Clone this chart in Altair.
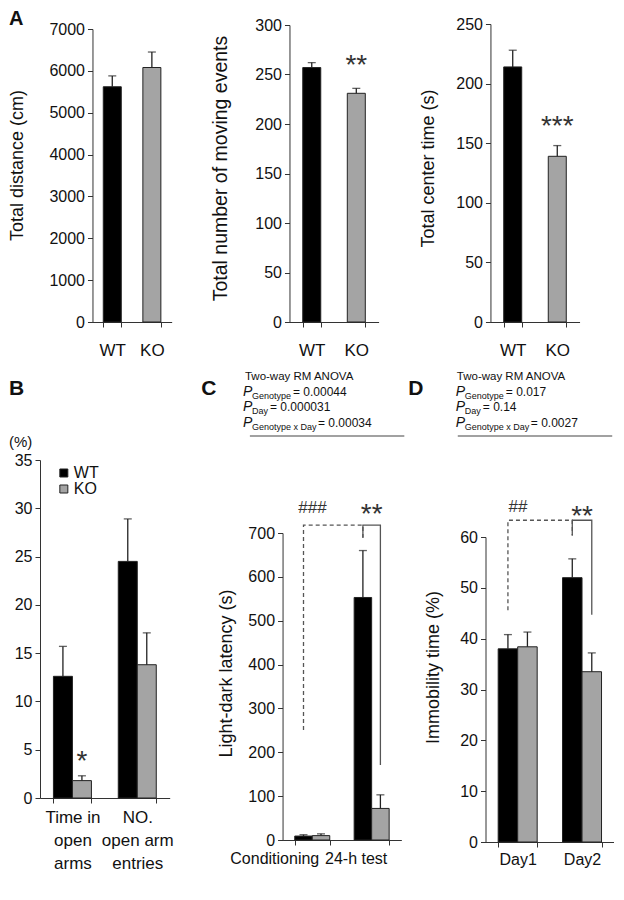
import altair as alt
import pandas as pd

FONT = "Liberation Sans"
EDGE = "#222222"
AXIS = "#333333"
TXT = "#111111"

genotypes = ["WT", "KO"]
bar_colors = ["#000000", "#a4a4a4"]

# ---------------- Panel A (open field) ----------------
a_distance = [5620, 6080]
a_distance_err = [260, 370]
a_moving = [257, 231]
a_moving_err = [5, 5]
a_center = [214, 139]
a_center_err = [14, 9]
a_distance_sig = ["", ""]
a_moving_sig = ["", "**"]
a_center_sig = ["", "***"]

# ---------------- Panel B (elevated plus maze) ----------------
b_groups = ["Time in|open|arms", "NO.|open arm|entries"]
b_wt = [12.6, 24.5]
b_wt_err = [3.1, 4.4]
b_ko = [1.8, 13.8]
b_ko_err = [0.5, 3.3]
b_sig_ko = ["*", ""]

# ---------------- Panel C (passive avoidance) ----------------
c_groups = ["Conditioning", "24-h test"]
c_wt = [9, 553]
c_wt_err = [3, 107]
c_ko = [10, 72]
c_ko_err = [4, 31]
c_stats = ["= 0.00044", "= 0.000031", "= 0.00034"]
c_hash = ["###", ""]
c_star = ["", "**"]
c_dashed = [("Conditioning", "WT", 251), ("Conditioning", "WT", 718),
            ("24-h test", "WT", 718), ("24-h test", "WT", 689)]
c_solid = [("24-h test", "WT", 689), ("24-h test", "WT", 718),
           ("24-h test", "KO", 718), ("24-h test", "KO", 171)]

# ---------------- Panel D (forced swim) ----------------
d_groups = ["Day1", "Day2"]
d_wt = [38.0, 52.0]
d_wt_err = [2.8, 3.7]
d_ko = [38.4, 33.5]
d_ko_err = [2.9, 3.7]
d_stats = ["= 0.017", "= 0.14", "= 0.0027"]
d_hash = ["##", ""]
d_star = ["", "**"]
d_dashed = [("Day1", "WT", 45.6), ("Day1", "WT", 63.3),
            ("Day2", "WT", 63.3), ("Day2", "WT", 60.3)]
d_solid = [("Day2", "WT", 60.3), ("Day2", "WT", 63.3),
           ("Day2", "KO", 63.3), ("Day2", "KO", 44.7)]

p_subscripts = ["Genotype", "Day", "Genotype x Day"]

# heights (data units) of the significance marks' baselines
A_MOVE_SIG_Y = 251
A_CENTER_SIG_Y = 157
A_DIST_SIG_Y = 0
B_SIG_Y = 2.9
C_STAR_Y = 723
C_HASH_Y = 745
D_STAR_Y = 62.4
D_HASH_Y = 65.0

# ---------------- layout (one view, page pixels) ----------------
KX = 0.99
VIEW_W, VIEW_H = 574, 818
PAD = {"left": 32, "top": 16, "right": 0, "bottom": 40}


def vx(px):
    return (px - 40) * KX


def vy(py):
    return py - 24


DUMMY = pd.DataFrame({"k": [0]})


def txt(s, x, y, size, **kw):
    props = dict(text=s, fontSize=size, font=FONT, align="left",
                 baseline="alphabetic", color=TXT)
    props.update(kw)
    return alt.Chart(DUMMY).mark_text(**props).encode(
        x=alt.value(x), y=alt.value(y))


def y_axis(ymax, ystep, axis_x, title=None, title_x=0, title_y=0, tsize=18):
    kw = dict(values=list(range(0, ymax + 1, ystep)), orient="left",
              offset=-axis_x, format="d")
    if title:
        kw.update(title=title, titleX=title_x - axis_x, titleY=title_y,
                  titleBaseline="middle", titleFontSize=tsize)
    else:
        kw.update(title=None)
    return alt.Axis(**kw)


def single_panel(means, errs, sig, sig_y, ymax, ystep, ytitle, xrange,
                 yrange, title_x, title_y, tsize=18):
    df = pd.DataFrame({"geno": genotypes, "mean": means,
                       "hi": [m + e for m, e in zip(means, errs)], "sig": sig})
    step = (xrange[1] - xrange[0]) / 2
    p_in = 1 - 18 / step
    xsc = alt.Scale(domain=genotypes, range=xrange, paddingInner=p_in,
                    paddingOuter=p_in / 2)
    xax = alt.Axis(title=None, labelAngle=0, tickBand="extent", orient="bottom",
                   offset=-(VIEW_H - yrange[0]), labelFontSize=17,
                   labelPadding=15)
    ysc = alt.Scale(domain=[0, ymax], range=yrange, nice=False)
    yax = y_axis(ymax, ystep, xrange[0], ytitle, title_x, title_y, tsize)

    def X():
        return alt.X("geno:N", sort=genotypes, scale=xsc, axis=xax)

    base = alt.Chart(df)
    bars = base.mark_bar(stroke=EDGE, strokeWidth=1).encode(
        x=X(), y=alt.Y("mean:Q", scale=ysc, axis=yax),
        color=alt.Color("geno:N", scale=alt.Scale(domain=genotypes,
                                                  range=bar_colors), legend=None))
    whisk = base.mark_rule(color=EDGE, strokeWidth=1.3).encode(
        x=X(), y=alt.Y("mean:Q", scale=ysc, axis=yax), y2="hi:Q")
    cap = base.mark_tick(color=EDGE, size=8, thickness=1.3).encode(
        x=X(), y=alt.Y("hi:Q", scale=ysc, axis=yax))
    stars = base.mark_text(fontSize=28, font=FONT, color="#333",
                           baseline="alphabetic").encode(
        x=X(), y=alt.datum(sig_y), text="sig:N")
    return alt.layer(bars, whisk, cap, stars)


def grouped_df(groups, wt, wt_err, ko, ko_err):
    rows = []
    for g, m, e in zip(groups, wt, wt_err):
        rows.append({"group": g, "geno": "WT", "mean": m, "hi": m + e})
    for g, m, e in zip(groups, ko, ko_err):
        rows.append({"group": g, "geno": "KO", "mean": m, "hi": m + e})
    return pd.DataFrame(rows)


def grouped_panel(df, groups, xrange, pair_w, yrange, ymax, ystep, yax,
                  xaxis_kw, legend=None, extra=()):
    step = (xrange[1] - xrange[0]) / 2
    p_in = 1 - pair_w / step
    xsc = alt.Scale(domain=groups, range=xrange, paddingInner=p_in,
                    paddingOuter=p_in / 2)
    xax = alt.Axis(title=None, labelAngle=0, tickBand="extent", orient="bottom",
                   offset=-(VIEW_H - yrange[0]), **xaxis_kw)
    ysc = alt.Scale(domain=[0, ymax], range=yrange, nice=False)

    def X():
        return alt.X("group:N", sort=groups, scale=xsc, axis=xax)

    def XO():
        return alt.XOffset("geno:N", sort=genotypes,
                           scale=alt.Scale(domain=genotypes))

    base = alt.Chart(df)
    bars = base.mark_bar(stroke=EDGE, strokeWidth=1).encode(
        x=X(), xOffset=XO(), y=alt.Y("mean:Q", scale=ysc, axis=yax),
        color=alt.Color("geno:N", scale=alt.Scale(domain=genotypes,
                                                  range=bar_colors),
                        legend=legend))
    whisk = base.mark_rule(color=EDGE, strokeWidth=1.3).encode(
        x=X(), xOffset=XO(), y=alt.Y("mean:Q", scale=ysc, axis=yax), y2="hi:Q")
    cap = base.mark_tick(color=EDGE, size=8, thickness=1.3).encode(
        x=X(), xOffset=XO(), y=alt.Y("hi:Q", scale=ysc, axis=yax))
    layers = [bars, whisk, cap]
    for e in extra:
        layers.append(e(X, XO, yax, ysc))
    return alt.layer(*layers)


def bracket(points, dashed):
    df = pd.DataFrame([{"group": g, "geno": k, "v": v, "step": i}
                       for i, (g, k, v) in enumerate(points)])

    def make(X, XO, yax, ysc):
        props = dict(color="#555555", strokeWidth=1.3)
        if dashed:
            props["strokeDash"] = [4, 3]
        return alt.Chart(df).mark_line(**props).encode(
            x=X(), xOffset=XO(), y=alt.Y("v:Q", scale=ysc, axis=yax),
            order="step:Q")
    return make


def group_text(groups, labels, yval, size, **kw):
    df = pd.DataFrame({"group": groups, "t": labels})

    def make(X, XO, yax, ysc):
        props = dict(fontSize=size, font=FONT, color="#333",
                     baseline="alphabetic")
        props.update(kw)
        return alt.Chart(df).mark_text(**props).encode(
            x=X(), y=alt.datum(yval), text="t:N")
    return make


def ko_text(groups, labels, yval, size):
    df = pd.DataFrame({"group": groups, "geno": ["KO"] * len(groups),
                       "t": labels})

    def make(X, XO, yax, ysc):
        return alt.Chart(df).mark_text(fontSize=size, font=FONT, color="#333",
                                       baseline="alphabetic").encode(
            x=X(), xOffset=XO(), y=alt.datum(yval), text="t:N")
    return make


def anova_block(px, tx, stats, line_x):
    layers = [txt("Two-way RM ANOVA", tx, vy(380), 11.5)]
    rows_y = [vy(396), vy(411), vy(427)]
    eq_dx = [50, 27, 75]
    for sub, val, ry, dx in zip(p_subscripts, stats, rows_y, eq_dx):
        layers.append(txt("P", px, ry, 14, fontStyle="italic"))
        layers.append(txt(sub, px + 9, ry + 3, 9))
        layers.append(txt(val, px + dx, ry, 12))
    layers.append(alt.Chart(DUMMY).mark_rule(color="#444", strokeWidth=1.2)
                  .encode(x=alt.value(line_x[0]), x2=alt.value(line_x[1]),
                          y=alt.value(vy(436))))
    return layers


# ---------------- build panels ----------------
A1 = single_panel(a_distance, a_distance_err, a_distance_sig, A_DIST_SIG_Y,
                  7000, 1000, "Total distance (cm)", [vx(93), vx(173)],
                  [vy(322), vy(29)], -23, 141)
A2 = single_panel(a_moving, a_moving_err, a_moving_sig, A_MOVE_SIG_Y,
                  300, 50, "Total number of moving events",
                  [vx(292), vx(382)], [vy(322), vy(25)], vx(222), 144, 19.5)
A3 = single_panel(a_center, a_center_err, a_center_sig, A_CENTER_SIG_Y,
                  250, 50, "Total center time (s)", [vx(495), vx(585)],
                  [vy(322), vy(24)], vx(432), 144)

b_df = grouped_df(b_groups, b_wt, b_wt_err, b_ko, b_ko_err)
b_legend = alt.Legend(orient="none", legendX=vx(56), legendY=vy(465),
                      title=None, symbolType="square", symbolSize=64,
                      symbolStrokeColor=EDGE, symbolStrokeWidth=1,
                      labelFontSize=16, labelFont=FONT, labelColor=TXT,
                      rowPadding=0, padding=0, labelOffset=2)
B = grouped_panel(
    b_df, b_groups, [vx(40), vx(171)], 38, [vy(798), vy(460)], 35, 5,
    y_axis(35, 5, vx(40)),
    dict(labelFontSize=17, labelPadding=6, labelLineHeight=23,
         labelExpr="split(datum.label, '|')"),
    legend=b_legend,
    extra=[ko_text(b_groups, b_sig_ko, B_SIG_Y, 28)])

c_df = grouped_df(c_groups, c_wt, c_wt_err, c_ko, c_ko_err)
C = grouped_panel(
    c_df, c_groups, [vx(285), vx(405)], 35, [vy(840), vy(533)], 700, 100,
    y_axis(700, 100, vx(285), "Light-dark latency (s)", vx(228), 649),
    dict(labelFontSize=16, labelPadding=5,
         labelOffset={"condition": {"test": "datum.value === 'Conditioning'",
                                    "value": -38}, "value": -16}),
    extra=[bracket(c_dashed, True), bracket(c_solid, False),
           group_text(c_groups, c_hash, C_HASH_Y, 17, fontStyle="italic"),
           group_text(c_groups, c_star, C_STAR_Y, 28)])

d_df = grouped_df(d_groups, d_wt, d_wt_err, d_ko, d_ko_err)
D = grouped_panel(
    d_df, d_groups, [vx(490), vx(620)], 39, [vy(842), vy(537)], 60, 10,
    y_axis(60, 10, vx(490), "Immobility time (%)", vx(437), 643),
    dict(labelFontSize=16, labelPadding=4),
    extra=[bracket(d_dashed, True), bracket(d_solid, False),
           group_text(d_groups, d_hash, D_HASH_Y, 17, fontStyle="italic"),
           group_text(d_groups, d_star, D_STAR_Y, 28)])

annotations = [
    txt("A", -31, vy(25), 20, fontWeight="bold"),
    txt("B", -31, vy(395), 21, fontWeight="bold"),
    txt("(%)", -31, vy(447), 15),
    txt("C", vx(203), vy(395), 21, fontWeight="bold"),
    txt("D", vx(412), vy(395), 21, fontWeight="bold"),
]
annotations += anova_block(vx(245), vx(247), c_stats, (vx(252), vx(408)))
annotations += anova_block(vx(460), vx(461), d_stats, (vx(462), vx(618)))

chart = alt.layer(A1, A2, A3, B, C, D, *annotations).resolve_scale(
    x="independent", y="independent", color="independent",
    xOffset="independent"
).resolve_axis(x="independent", y="independent").properties(
    width=VIEW_W, height=VIEW_H, padding=PAD,
    autosize=alt.AutoSizeParams(type="none"))

chart = chart.configure_axis(
    grid=False, labelFont=FONT, titleFont=FONT, labelColor=TXT,
    titleColor=TXT, domainColor=AXIS, tickColor=AXIS, tickSize=5,
    labelFontSize=16, titleFontSize=18, titleFontWeight="normal",
    labelPadding=3, domainWidth=1, tickWidth=1
).configure_view(stroke=None)

chart.save("out.html", embed_options={"renderer": "svg", "actions": False})
